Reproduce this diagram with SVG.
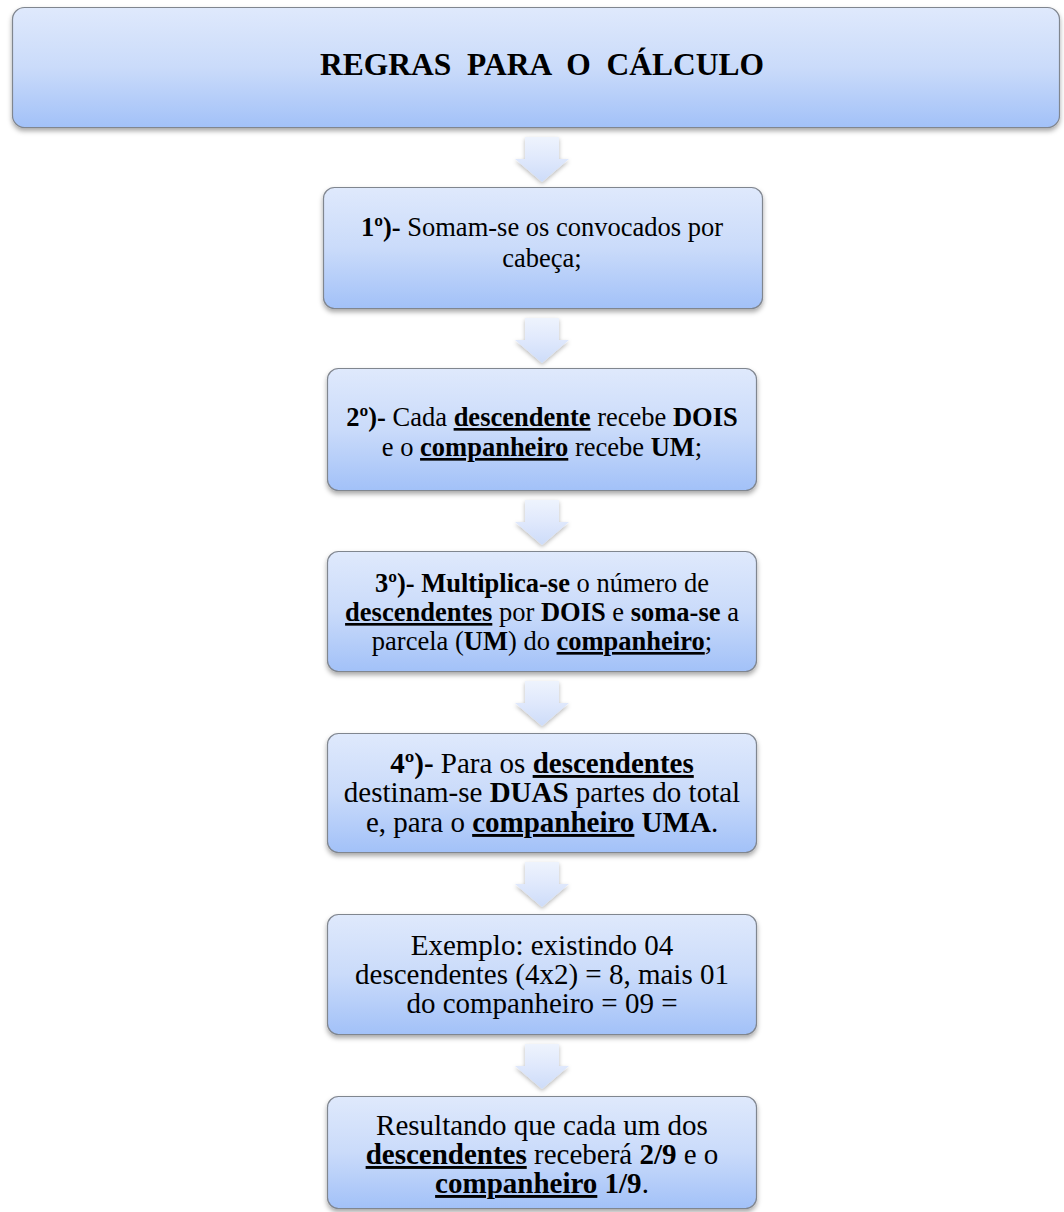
<svg xmlns="http://www.w3.org/2000/svg" width="1064" height="1212" viewBox="0 0 1064 1212">
  <defs>
    <linearGradient id="boxFill" x1="0" y1="0" x2="0" y2="1">
      <stop offset="0" stop-color="#dfe9fc"/>
      <stop offset="0.5" stop-color="#cadbfa"/>
      <stop offset="1" stop-color="#a2c1f8"/>
    </linearGradient>
    <linearGradient id="arrowFill" x1="0" y1="0" x2="0" y2="1">
      <stop offset="0" stop-color="#eef3fd"/>
      <stop offset="0.5" stop-color="#dfe8fc"/>
      <stop offset="1" stop-color="#cddcf9"/>
    </linearGradient>
    <filter id="shadow" x="-5%" y="-10%" width="110%" height="130%">
      <feDropShadow dx="0" dy="3" stdDeviation="2.5" flood-color="#000" flood-opacity="0.35"/>
    </filter>
    <filter id="arrowShadow" x="-30%" y="-20%" width="160%" height="150%">
      <feDropShadow dx="0" dy="2" stdDeviation="2" flood-color="#000" flood-opacity="0.28"/>
    </filter>
    <path id="arrow" d="M-17,0 H17 V22 H27 L0,45 L-27,22 H-17 Z"/>
  </defs>
  <style>
    .box { fill: url(#boxFill); stroke: #80868f; stroke-width: 1.2; filter: url(#shadow); }
    .arr { fill: url(#arrowFill); filter: url(#arrowShadow); }
    text { font-family: "Liberation Serif", "Times New Roman", serif; fill: #000; text-anchor: middle; }
    .s { font-size: 26.5px; }
    .l { font-size: 29px; }
    .title { font-size: 31.5px; font-weight: bold; white-space: pre; }
    .b { font-weight: bold; }
    .u { font-weight: bold; text-decoration: underline; }
  </style>

  <!-- connectors: block arrows between steps -->
  <g id="connectors">
    <use href="#arrow" class="arr" x="542" y="137"/>
    <use href="#arrow" class="arr" x="542" y="318"/>
    <use href="#arrow" class="arr" x="542" y="500"/>
    <use href="#arrow" class="arr" x="542" y="681"/>
    <use href="#arrow" class="arr" x="542" y="862"/>
    <use href="#arrow" class="arr" x="542" y="1044"/>
  </g>

  <g id="header">
    <rect class="box" x="12.5" y="7.5" width="1047" height="120" rx="12"/>
    <text class="title" x="542" y="75" xml:space="preserve">REGRAS  PARA  O  CÁLCULO</text>
  </g>

  <g id="step1">
    <rect class="box" x="323.5" y="187.5" width="439" height="121" rx="11"/>
    <text class="s" x="542" y="236"><tspan class="b">1º)-</tspan> Somam-se os convocados por</text>
    <text class="s" x="542" y="267">cabeça;</text>
  </g>

  <g id="step2">
    <rect class="box" x="327.5" y="368.5" width="429" height="122" rx="11"/>
    <text class="s" x="542" y="426"><tspan class="b">2º)-</tspan> Cada <tspan class="u">descendente</tspan> recebe <tspan class="b">DOIS</tspan></text>
    <text class="s" x="542" y="456">e o <tspan class="u">companheiro</tspan> recebe <tspan class="b">UM</tspan>;</text>
  </g>

  <g id="step3">
    <rect class="box" x="327.5" y="551.5" width="429" height="120" rx="11"/>
    <text class="s" x="542" y="592"><tspan class="b">3º)- Multiplica-se</tspan> o número de</text>
    <text class="s" x="542" y="621"><tspan class="u">descendentes</tspan> por <tspan class="b">DOIS</tspan> e <tspan class="b">soma-se</tspan> a</text>
    <text class="s" x="542" y="650">parcela (<tspan class="b">UM</tspan>) do <tspan class="u">companheiro</tspan>;</text>
  </g>

  <g id="step4">
    <rect class="box" x="327.5" y="733.5" width="429" height="119" rx="11"/>
    <text class="l" x="542" y="773"><tspan class="b">4º)-</tspan> Para os <tspan class="u">descendentes</tspan></text>
    <text class="l" x="542" y="802">destinam-se <tspan class="b">DUAS</tspan> partes do total</text>
    <text class="l" x="542" y="832">e, para o <tspan class="u">companheiro</tspan> <tspan class="b">UMA</tspan>.</text>
  </g>

  <g id="example">
    <rect class="box" x="327.5" y="914.5" width="429" height="120" rx="11"/>
    <text class="l" x="542" y="955">Exemplo: existindo 04</text>
    <text class="l" x="542" y="984">descendentes (4x2) = 8, mais 01</text>
    <text class="l" x="542" y="1013">do companheiro = 09 =</text>
  </g>

  <g id="result">
    <rect class="box" x="327.5" y="1096.5" width="429" height="112" rx="11"/>
    <text class="l" x="542" y="1135">Resultando que cada um dos</text>
    <text class="l" x="542" y="1164"><tspan class="u">descendentes</tspan> receberá <tspan class="b">2/9</tspan> e o</text>
    <text class="l" x="542" y="1193"><tspan class="u">companheiro</tspan> <tspan class="b">1/9</tspan>.</text>
  </g>
</svg>
